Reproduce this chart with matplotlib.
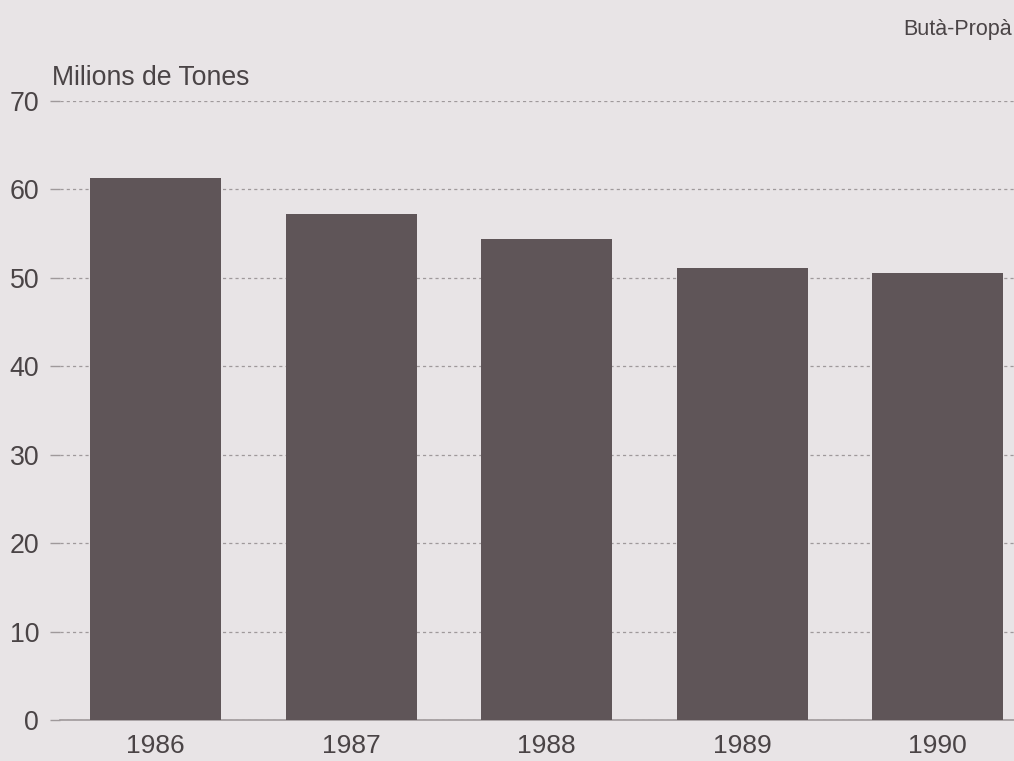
import matplotlib
matplotlib.use("Agg")
import matplotlib.pyplot as plt

years = ["1986", "1987", "1988", "1989", "1990"]
values = [61.3, 57.2, 54.4, 51.1, 50.6]
yticks = [0, 10, 20, 30, 40, 50, 60, 70]

bg = "#e8e4e6"
bar_color = "#5f5558"
text_color = "#4a4446"
grid_color = "#9f999b"

plt.rcParams['font.family'] = ['Liberation Sans', 'DejaVu Sans']

fig = plt.figure(figsize=(10.14, 7.61), dpi=100, facecolor=bg)
W, H = 1014, 761
ax = fig.add_axes([60 / W, 41 / H, 954 / W, 619 / H], facecolor=bg)

x = list(range(len(years)))
ax.bar(x, values, width=0.67, color=bar_color, zorder=3)

ax.set_xlim(-0.49, 4.39)
ax.set_ylim(0, 70)
ax.set_yticks(yticks)
ax.set_yticklabels([str(t) for t in yticks])
ax.set_xticks(x)
ax.set_xticklabels(years)

for s in ["left", "right", "top"]:
    ax.spines[s].set_visible(False)
ax.spines["bottom"].set_color(grid_color)
ax.spines["bottom"].set_linewidth(1.2)

ax.yaxis.grid(True, linestyle=(0, (2.5, 2.5)), color=grid_color, linewidth=0.9, zorder=0)
ax.tick_params(axis="y", length=7, width=1.0, color=grid_color, pad=8,
               labelsize=19.3, labelcolor=text_color)
ax.tick_params(axis="x", length=0, pad=10, labelsize=19, labelcolor=text_color)

fig.text(52 / W, 1 - 78 / H, "Milions de Tones", fontsize=19.2, color=text_color,
         ha="left", va="center")
fig.text(1012 / W, 1 - 30 / H, "Butà-Propà", fontsize=15.5, color=text_color,
         ha="right", va="center")

fig.savefig("out.png", dpi=100, facecolor=bg)
